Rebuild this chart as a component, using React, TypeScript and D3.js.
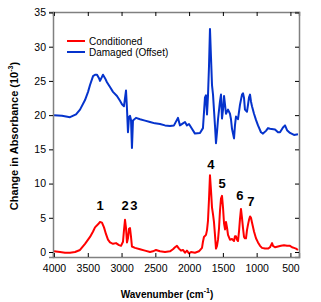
import React, { useEffect, useRef } from "react";
import * as d3 from "d3";

// wavenumbers (cm-1) and change in absorbance (10^-3)
const damagedWn = [4000, 3882, 3763, 3674, 3615, 3541, 3496, 3467, 3422, 3393, 3363, 3334, 3319, 3290, 3275, 3245, 3216, 3171, 3127, 3068, 3023, 2994, 2964, 2949, 2934, 2920, 2905, 2890, 2875, 2860, 2846, 2831, 2786, 2727, 2653, 2579, 2505, 2431, 2357, 2283, 2224, 2165, 2135, 2091, 2061, 2032, 2002, 1958, 1913, 1839, 1795, 1765, 1750, 1735, 1721, 1706, 1691, 1676, 1661, 1646, 1632, 1617, 1602, 1587, 1572, 1543, 1528, 1513, 1498, 1483, 1468, 1454, 1424, 1395, 1380, 1365, 1335, 1321, 1306, 1276, 1247, 1217, 1202, 1187, 1173, 1143, 1128, 1113, 1098, 1084, 1069, 1039, 1010, 980, 936, 906, 862, 832, 802, 728, 684, 654, 610, 580, 550, 506, 447, 388];
const damagedVal = [20.0, 19.9, 19.7, 20.1, 20.8, 22.2, 23.4, 24.4, 25.7, 25.9, 25.9, 25.4, 25.0, 25.6, 25.9, 25.4, 24.8, 24.1, 23.4, 22.8, 22.1, 21.6, 21.3, 22.5, 23.6, 21.0, 17.5, 19.7, 19.9, 19.3, 15.2, 19.2, 19.6, 19.4, 19.2, 19.0, 18.8, 18.7, 18.5, 18.4, 18.5, 19.6, 18.5, 18.8, 19.0, 18.5, 18.7, 18.0, 17.3, 17.4, 18.1, 22.6, 22.9, 20.1, 22.7, 27.0, 32.6, 28.5, 24.4, 23.0, 20.8, 18.5, 15.9, 17.5, 19.4, 22.0, 23.0, 19.5, 20.8, 22.8, 21.5, 20.2, 20.8, 20.2, 19.4, 18.0, 16.6, 18.5, 19.8, 19.4, 21.5, 23.0, 23.2, 22.5, 20.8, 20.5, 21.5, 22.6, 23.0, 22.0, 21.3, 20.2, 19.3, 18.5, 17.5, 17.3, 17.7, 18.1, 18.0, 17.9, 17.5, 17.5, 18.2, 18.5, 17.8, 17.4, 17.1, 17.2];

const condWn = [4000, 3911, 3837, 3763, 3689, 3615, 3541, 3467, 3422, 3393, 3334, 3319, 3290, 3260, 3230, 3201, 3171, 3127, 3082, 3038, 3008, 2979, 2964, 2949, 2934, 2920, 2905, 2890, 2875, 2860, 2846, 2801, 2727, 2653, 2579, 2535, 2490, 2431, 2357, 2283, 2239, 2209, 2180, 2150, 2120, 2091, 2061, 2032, 2002, 1972, 1913, 1854, 1809, 1795, 1780, 1750, 1735, 1721, 1706, 1691, 1676, 1661, 1646, 1632, 1617, 1602, 1587, 1572, 1557, 1543, 1528, 1513, 1498, 1483, 1468, 1454, 1439, 1424, 1395, 1365, 1335, 1321, 1306, 1291, 1276, 1261, 1247, 1232, 1217, 1202, 1187, 1173, 1158, 1143, 1128, 1113, 1098, 1084, 1069, 1039, 1010, 980, 950, 921, 876, 832, 802, 787, 772, 758, 728, 684, 640, 595, 550, 506, 476, 447, 417, 388];
const condVal = [0.1, 0.0, -0.1, -0.1, 0.0, 0.3, 1.2, 2.2, 3.0, 3.6, 4.2, 4.4, 4.3, 3.6, 2.6, 1.8, 1.4, 1.2, 1.3, 1.0, 0.9, 1.5, 3.2, 4.7, 3.5, 1.4, 2.0, 3.4, 3.5, 2.2, 0.8, 0.6, 0.4, 0.2, 0.0, 0.1, 0.3, 0.1, 0.0, 0.1, 0.4, 0.7, 0.9, 0.5, 0.2, 0.3, -0.1, 0.2, -0.2, 0.0, -0.1, 0.1, 0.6, 1.5, 2.2, 2.5, 3.2, 4.5, 7.6, 11.2, 9.0, 6.5, 5.5, 4.4, 2.5, 0.5, 0.9, 1.8, 3.5, 6.0, 7.8, 8.2, 6.5, 4.2, 3.3, 4.4, 3.6, 2.5, 1.8, 1.9, 1.6, 2.3, 2.3, 1.8, 1.6, 3.0, 4.8, 6.3, 5.0, 3.5, 2.2, 2.0, 2.0, 3.2, 4.0, 4.7, 5.2, 5.0, 4.3, 3.0, 2.0, 1.4, 0.9, 0.6, 0.5, 0.5, 0.7, 1.0, 1.3, 0.9, 0.7, 0.8, 0.9, 1.0, 0.9, 0.9, 0.7, 0.6, 0.5, 0.3];

const xTicks = [4000, 3500, 3000, 2500, 2000, 1500, 1000, 500];
const yTicks = [0, 5, 10, 15, 20, 25, 30, 35];

const peakLabels = ["1", "2", "3", "4", "5", "6", "7"];
const peakWn = [3317, 2949, 2816, 1676, 1513, 1247, 1084];
const peakVal = [6.1, 6.1, 6.1, 12.1, 9.35, 7.6, 6.7];

const seriesNames = ["Conditioned", "Damaged (Offset)"];
const seriesColors = ["#ff0000", "#0533cc"];

const W = 321;
const H = 302;
const margin = { left: 53, right: 22, top: 12, bottom: 45 };

const App = () => {
  const svgRef = useRef(null);

  useEffect(() => {
    const svg = d3.select(svgRef.current);
    svg.selectAll("*").remove();

    const x = d3.scaleLinear().domain([4015, 373]).range([margin.left, W - margin.right]);
    const y = d3.scaleLinear().domain([-0.73, 35.07]).range([H - margin.bottom, margin.top]);

    const font = "Liberation Sans, Arial, sans-serif";
    const frame = "#808080";

    const line = d3.line<[number, number]>()
      .x(d => x(d[0]))
      .y(d => y(d[1]));

    const cond = condWn.map((w, i) => [w, condVal[i]] as [number, number]);
    const dmg = damagedWn.map((w, i) => [w, damagedVal[i]] as [number, number]);

    svg.append("path").datum(dmg).attr("d", line)
      .attr("fill", "none").attr("stroke", seriesColors[1]).attr("stroke-width", 2)
      .attr("stroke-linejoin", "round");
    svg.append("path").datum(cond).attr("d", line)
      .attr("fill", "none").attr("stroke", seriesColors[0]).attr("stroke-width", 2)
      .attr("stroke-linejoin", "round");

    // axes
    const bottom = svg.append("g").attr("transform", `translate(0,${H - margin.bottom})`)
      .call(d3.axisBottom(x).tickValues(xTicks).tickSize(-4).tickPadding(8).tickFormat(d3.format("d")));
    const top = svg.append("g").attr("transform", `translate(0,${margin.top})`)
      .call(d3.axisTop(x).tickValues(xTicks).tickSize(-4).tickFormat(() => ""));
    const left = svg.append("g").attr("transform", `translate(${margin.left},0)`)
      .call(d3.axisLeft(y).tickValues(yTicks).tickSize(4).tickPadding(3));
    const right = svg.append("g").attr("transform", `translate(${W - margin.right},0)`)
      .call(d3.axisRight(y).tickValues(yTicks).tickSize(-4).tickFormat(() => ""));

    [bottom, top, left, right].forEach(g => {
      g.select(".domain").attr("stroke", frame).attr("stroke-width", 1.5);
      g.selectAll(".tick line").attr("stroke", "#000").attr("stroke-width", 1);
      g.selectAll("text").attr("font-family", font).attr("font-size", 10.5).attr("fill", "#000");
    });

    // peak labels
    svg.selectAll("text.peak")
      .data(peakLabels)
      .join("text")
      .attr("class", "peak")
      .attr("x", (d, i) => x(peakWn[i]))
      .attr("y", (d, i) => y(peakVal[i]))
      .attr("text-anchor", "middle")
      .attr("font-family", font)
      .attr("font-weight", "bold")
      .attr("font-size", 13)
      .text(d => d);

    // legend
    const legend = svg.append("g").attr("transform", "translate(67,41)");
    seriesNames.forEach((name, i) => {
      legend.append("line")
        .attr("x1", 0).attr("x2", 18).attr("y1", i * 11).attr("y2", i * 11)
        .attr("stroke", seriesColors[i]).attr("stroke-width", 2);
      legend.append("text")
        .attr("x", 22).attr("y", i * 11).attr("dy", "0.35em")
        .attr("font-family", font).attr("font-size", 10)
        .text(name);
    });

    // axis titles
    const xt = svg.append("text")
      .attr("x", 167)
      .attr("y", 298)
      .attr("text-anchor", "middle")
      .attr("font-family", font).attr("font-weight", "bold").attr("font-size", 10);
    xt.append("tspan").text("Wavenumber (cm");
    xt.append("tspan").attr("dy", -5).attr("font-size", 7).text("-1");
    xt.append("tspan").attr("dy", 5).text(")");

    const yt = svg.append("text")
      .attr("transform", `translate(18,136) rotate(-90)`)
      .attr("text-anchor", "middle")
      .attr("font-family", font).attr("font-weight", "bold").attr("font-size", 11);
    yt.append("tspan").text("Change in Absorbance (10");
    yt.append("tspan").attr("dy", -5).attr("font-size", 7).text("-3");
    yt.append("tspan").attr("dy", 5).text(")");
  }, []);

  return <svg ref={svgRef} width={W} height={H} style={{ position: "absolute", left: 0, top: 0 }}></svg>;
};

export default App;
